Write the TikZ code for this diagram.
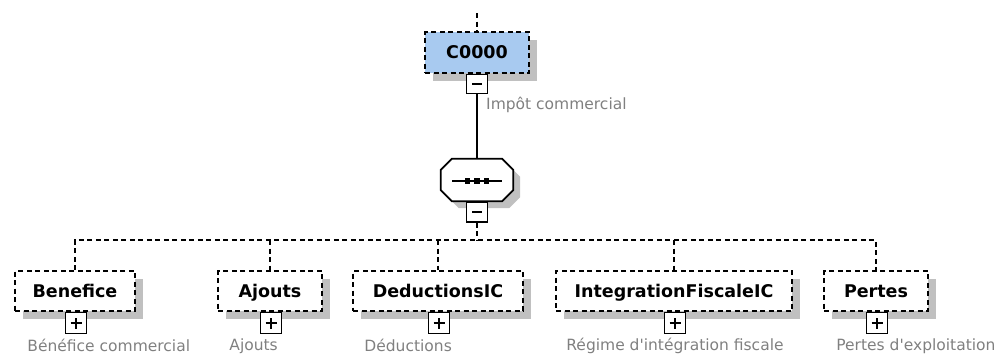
\documentclass[tikz,border=0pt]{standalone}
\usepackage{fontspec}
\setmainfont{DejaVu Sans}
\newfontfamily\labfont{DejaVu Sans}
\usetikzlibrary{shadows,calc}
\definecolor{hdrblue}{RGB}{168,202,240}
\definecolor{shadowgray}{RGB}{192,192,192}
\definecolor{labgray}{RGB}{128,128,128}
\begin{document}
\begin{tikzpicture}[x=1pt,y=-1pt,
  dsh/.style={line width=1.6pt, dash pattern=on 5pt off 3.5pt},
  elem/.style={draw, dsh, fill=white, minimum height=40pt, inner sep=0pt,
    font=\bfseries\fontsize{17.5}{20}\selectfont, text height=12.7pt, text depth=0pt,
    drop shadow={shadow xshift=8pt, shadow yshift=-8pt, fill=shadowgray, opacity=1}},
  tog/.style={draw, solid, line width=1.5pt, fill=white, minimum width=21pt, minimum height=20pt, inner sep=0pt, anchor=north},
  lab/.style={text=labgray, font=\labfont\fontsize{15.5}{18}\selectfont, anchor=west, inner sep=0pt},
  conn/.style={line width=1.7pt}
]
\useasboundingbox (0,0) rectangle (1001,354);

% root
\coordinate (top) at (477,13);
\node[elem, fill=hdrblue, minimum width=104pt, minimum height=41pt] (c0) at (477,52.5) {C0000};
\node[tog, minimum height=19pt] (c0t) at (c0.south) {};
\draw[line width=1.4pt] ([xshift=-5pt]c0t.center) -- ([xshift=5pt]c0t.center);
\node[lab] (c0lab) at (486,105) {Impôt commercial};

% sequence compositor
\node[minimum width=72pt, minimum height=42pt, inner sep=0pt] (seq) at (477,180) {};
\fill[shadowgray]
  ([shift={(18,7)}]seq.north west) -- ([shift={(-4,7)}]seq.north east) -- ([shift={(7,18)}]seq.north east)
  -- ([shift={(7,-4)}]seq.south east) -- ([shift={(-4,7)}]seq.south east) -- ([shift={(18,7)}]seq.south west)
  -- ([shift={(7,-4)}]seq.south west) -- ([shift={(7,18)}]seq.north west) -- cycle;
\draw[line width=1.7pt, fill=white, line join=miter]
  ([xshift=11pt]seq.north west) -- ([xshift=-11pt]seq.north east) -- ([yshift=-11pt]seq.north east)
  -- ([yshift=11pt]seq.south east) -- ([xshift=-11pt]seq.south east) -- ([xshift=11pt]seq.south west)
  -- ([yshift=11pt]seq.south west) -- ([yshift=-11pt]seq.north west) -- cycle;
\draw[line width=1.4pt] ([xshift=-25pt,yshift=-1pt]seq.center) -- ([xshift=25pt,yshift=-1pt]seq.center);
\foreach \dx in {-9.5,0,9.5}
  \fill ([xshift=\dx pt,yshift=-1pt]seq.center) +(-2.7,-2.7) rectangle +(2.7,2.7);
\node[tog, minimum height=20pt] (seqt) at (seq.south) {};
\draw[line width=1.4pt] ([xshift=-5pt]seqt.center) -- ([xshift=5pt]seqt.center);

\draw[dsh] (top) -- (c0.north);
\draw[conn] (c0t.south) -- (seq.north);
\coordinate (bus) at (477,240);
\draw[dsh] (seqt.south) -- (bus);

% children
\node[elem, minimum width=120pt] (b1) at (75,291) {Benefice};
\node[elem, minimum width=104pt] (b2) at (270,291) {Ajouts};
\node[elem, minimum width=170pt] (b3) at (438,291) {DeductionsIC};
\node[elem, minimum width=236pt] (b4) at (674,291) {IntegrationFiscaleIC};
\node[elem, minimum width=104pt] (b5) at (876,291) {Pertes};

\foreach \n in {b1,b2,b3,b4,b5}{
  \node[tog, minimum height=21pt] (\n t) at ([xshift=1pt]\n.south) {};
  \draw[line width=1.4pt] ([xshift=-5.5pt]\n t.center) -- ([xshift=5.5pt]\n t.center);
  \draw[line width=1.4pt] ([yshift=-5.5pt]\n t.center) -- ([yshift=5.5pt]\n t.center);
}

\draw[dsh] (b1.north) -- (b1.north |- bus) -- (b5.north |- bus) -- (b5.north);
\foreach \n in {b2,b3,b4}
  \draw[dsh] (\n.north |- bus) -- (\n.north);

\node[lab] at ([xshift=13pt,yshift=-34pt]b1.south west) {Bénéfice commercial};
\node[lab] at ([xshift=12pt,yshift=-34pt]b2.south west) {Ajouts};
\node[lab] at ([xshift=12pt,yshift=-34pt]b3.south west) {Déductions};
\node[lab] at ([xshift=11pt,yshift=-34pt]b4.south west) {Régime d'intégration fiscale};
\node[lab] at ([xshift=13pt,yshift=-34pt]b5.south west) {Pertes d'exploitation};
\end{tikzpicture}
\end{document}
